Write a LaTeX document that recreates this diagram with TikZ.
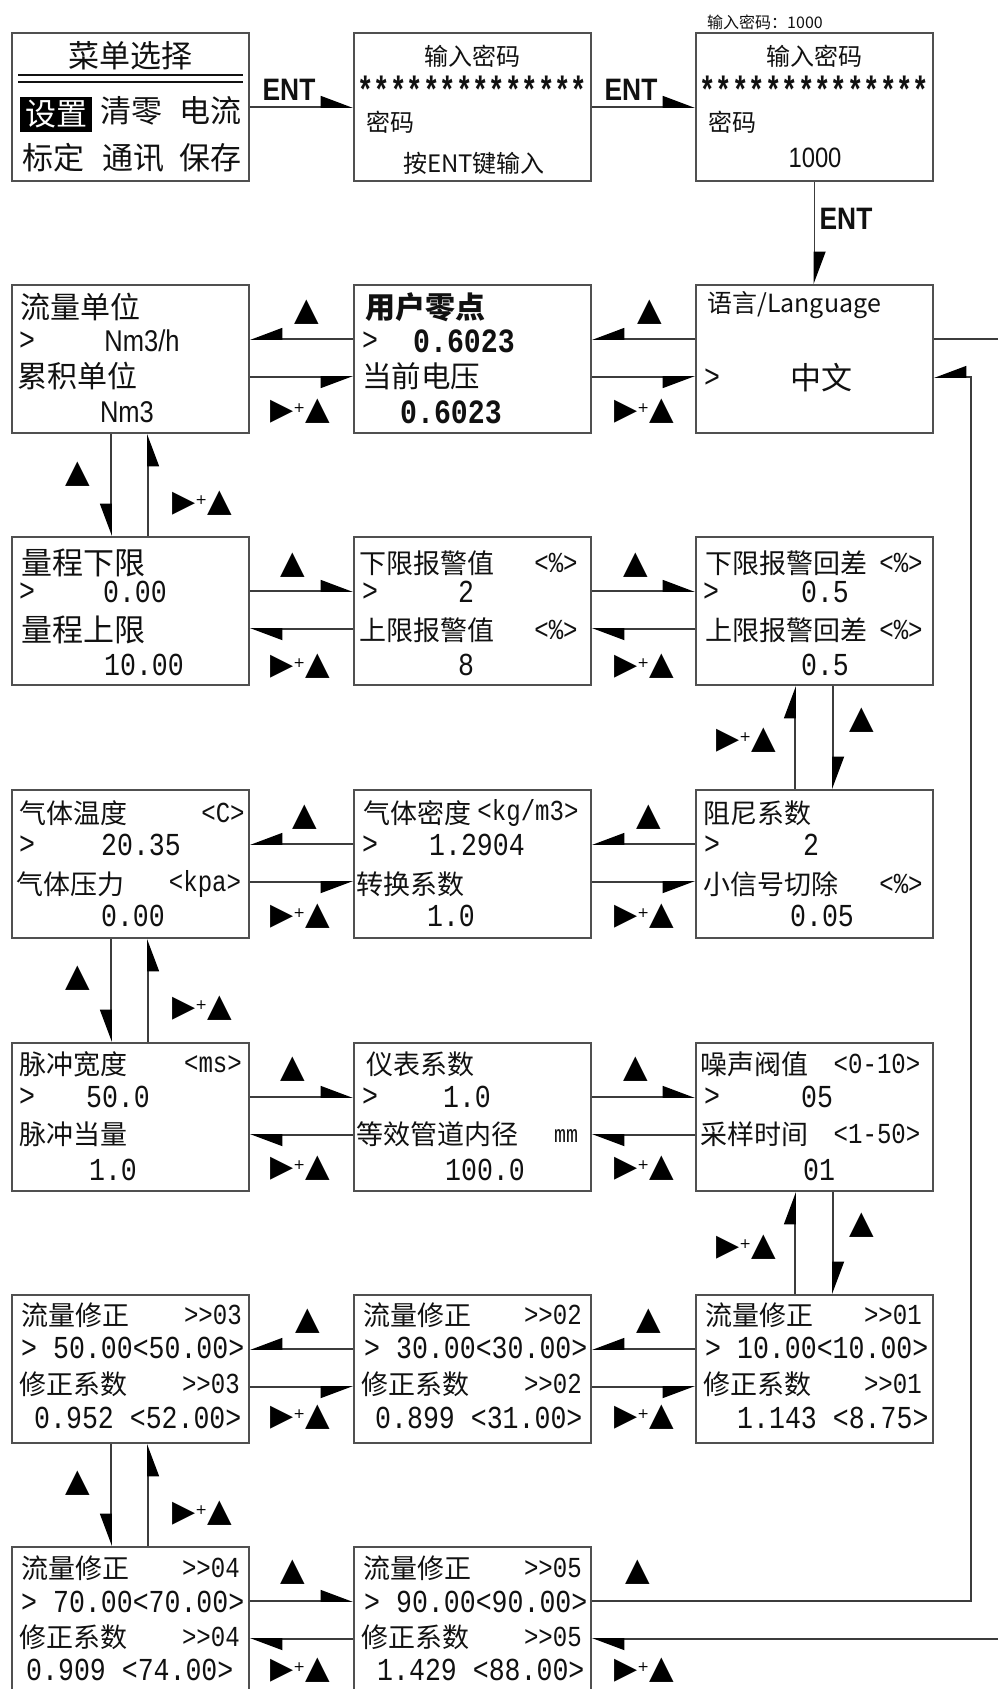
\documentclass[tikz,border=0pt]{standalone}
\usepackage{fontspec}
\usetikzlibrary{arrows.meta,calc}
\newfontfamily\cjk{Noto Sans CJK SC}
\newfontfamily\nmono[FakeStretch=0.83]{Liberation Mono}
\newfontfamily\astfont[FakeStretch=0.72]{Liberation Mono}
\newfontfamily\lsans[FakeStretch=0.85]{Liberation Sans}
\newfontfamily\dv{DejaVu Sans}
\definecolor{bdr}{HTML}{505050}
\definecolor{lnc}{HTML}{3C3C3C}
\definecolor{txt}{HTML}{111111}
\newcommand\triU{{\dv\fontsize{32}{32}\selectfont ▲}}
\newcommand\triRU{{\dv\fontsize{30}{30}\selectfont ▶}\raisebox{7pt}{\dv\fontsize{14}{14}\selectfont +}{\dv\fontsize{32}{32}\selectfont ▲}}
\begin{document}
\begin{tikzpicture}[x=1pt,y=-1pt,
  box/.style={draw=bdr, line width=2pt, minimum width=237pt, minimum height=148pt, inner sep=0pt, fill=white},
  ln/.style={draw=lnc, line width=1.8pt},
  hL/.style={ln, -{Triangle[left,length=30pt,width=22pt,color=black]}},
  hR/.style={ln, -{Triangle[right,length=30pt,width=22pt,color=black]}},
  cj/.style={font=\cjk\fontsize{27}{30}\selectfont, text=txt, inner sep=0pt, anchor=west},
  cjL/.style={cj, font=\cjk\fontsize{31}{33}\selectfont},
  cjB/.style={cj, font=\cjk\bfseries\fontsize{30}{32}\selectfont},
  cjM/.style={cj, font=\cjk\fontsize{25}{27}\selectfont},
  cjS/.style={cj, font=\cjk\fontsize{24}{26}\selectfont},
  num/.style={font=\nmono\fontsize{32}{34}\selectfont, text=txt, inner sep=0pt, anchor=west},
  numB/.style={num, font=\nmono\bfseries\fontsize{34}{36}\selectfont},
  unit/.style={font=\nmono\fontsize{29}{31}\selectfont, text=txt, inner sep=0pt, anchor=center},
  star/.style={font=\astfont\bfseries\fontsize{38}{40}\selectfont, text=txt, inner sep=0pt, anchor=center},
  lat/.style={font=\lsans\fontsize{31}{33}\selectfont, text=txt, inner sep=0pt, anchor=center},
  entl/.style={font=\lsans\bfseries\fontsize{31}{33}\selectfont, text=txt, inner sep=0pt, anchor=center},
  sym/.style={inner sep=0pt, anchor=center, text=black}
]
\fill[white] (0,0) rectangle (998,1689);
\useasboundingbox (0,0) rectangle (998,1689);

% ---------- boxes ----------
\node[box] (b11) at (130.5,107) {};
\node[box] (b12) at (472.5,107) {};
\node[box] (b13) at (814.5,107) {};
\node[box] (b21) at (130.5,359) {};
\node[box] (b22) at (472.5,359) {};
\node[box] (b23) at (814.5,359) {};
\node[box] (b31) at (130.5,611) {};
\node[box] (b32) at (472.5,611) {};
\node[box] (b33) at (814.5,611) {};
\node[box] (b41) at (130.5,864) {};
\node[box] (b42) at (472.5,864) {};
\node[box] (b43) at (814.5,864) {};
\node[box] (b51) at (130.5,1117) {};
\node[box] (b52) at (472.5,1117) {};
\node[box] (b53) at (814.5,1117) {};
\node[box] (b61) at (130.5,1369) {};
\node[box] (b62) at (472.5,1369) {};
\node[box] (b63) at (814.5,1369) {};
\node[box] (b71) at (130.5,1621) {};
\node[box] (b72) at (472.5,1621) {};

% ---------- row 1 ----------
\node[cj, anchor=center, font=\cjk\fontsize{16}{17}\selectfont] (pw) at (765,22) {输入密码：1000};
\node[cjL, anchor=center] (t11a) at (130,56) {菜单选择};
\draw[line width=2.6pt, draw=txt] ($(b11.north west)+(7,43)$) -- ($(b11.north east)+(-7,43)$);
\draw[line width=2.6pt, draw=txt] ($(b11.north west)+(7,50)$) -- ($(b11.north east)+(-7,50)$);
\node[cjL, anchor=center, fill=black, text=white, minimum width=72pt, minimum height=35pt] (t11b) at (56,114.5) {设置};
\node[cjL, anchor=center] (t11c) at (131.5,111) {清零};
\node[cjL, anchor=center] (t11d) at (210,111) {电流};
\node[cjL, anchor=center] (t11e) at (53,158) {标定};
\node[cjL, anchor=center] (t11f) at (133.5,158) {通讯};
\node[cjL, anchor=center] (t11g) at (210,158) {保存};

\node[cjS, anchor=center] (t12a) at (472,56) {输入密码};
\node[star] (t12b) at (472.5,90) {**************};
\node[cjS] (t12c) at (366,122) {密码};
\node[cjS, anchor=center] (t12d) at (474,163) {按ENT键输入};

\node[cjS, anchor=center] (t13a) at (814,56) {输入密码};
\node[star] (t13b) at (814.5,90) {**************};
\node[cjS] (t13c) at (708,122) {密码};
\node[lat, font=\lsans\fontsize{28}{30}\selectfont] (t13d) at (815,158) {1000};

\node[entl] (e1) at (289,90) {ENT};
\node[entl] (e2) at (631,90) {ENT};
\node[entl] (e3) at (846,219) {ENT};
\draw[hL] (b11.east) -- (b12.west);
\draw[hL] (b12.east) -- (b13.west);
\draw[hL] (b13.south) -- (b23.north);

% ---------- row 2 ----------
\node[cjL, font=\cjk\fontsize{30}{32}\selectfont] (t21a) at (20,307) {流量单位};
\node[num] (t21b) at (19,341) {>};
\node[lat, font=\lsans\fontsize{30}{32}\selectfont] (t21c) at (142,341) {Nm3/h};
\node[cjL, font=\cjk\fontsize{30}{32}\selectfont] (t21d) at (17,376) {累积单位};
\node[lat, font=\lsans\fontsize{30}{32}\selectfont] (t21e) at (127,412) {Nm3};

\node[cjB] (t22a) at (365,307) {用户零点};
\node[num] (t22b) at (362,341) {>};
\node[numB, anchor=center] (t22c) at (464,341) {0.6023};
\node[cjL, font=\cjk\fontsize{29.5}{31}\selectfont] (t22d) at (362,376) {当前电压};
\node[numB, anchor=center] (t22e) at (451,412) {0.6023};

\node[cjM] (t23a) at (707,305) {语言/Language};
\node[num] (t23b) at (704,378) {>};
\node[cjL, anchor=center] (t23c) at (821,378) {中文};

% ---------- row 3 ----------
\node[cjL] (t31a) at (21,563) {量程下限};
\node[num] (t31b) at (19,592) {>};
\node[num, anchor=center] (t31c) at (135,592) {0.00};
\node[cjL] (t31d) at (21,630) {量程上限};
\node[num, anchor=center] (t31e) at (144,665) {10.00};

\node[cj] (t32a) at (359,563) {下限报警值};
\node[unit] (t32b) at (556,563) {<\%>};
\node[num] (t32c) at (362,592) {>};
\node[num, anchor=center] (t32d) at (466,592) {2};
\node[cj] (t32e) at (359,630) {上限报警值};
\node[unit] (t32f) at (556,630) {<\%>};
\node[num, anchor=center] (t32g) at (466,665) {8};

\node[cj] (t33a) at (705,563) {下限报警回差};
\node[unit] (t33b) at (901,563) {<\%>};
\node[num] (t33c) at (703,592) {>};
\node[num, anchor=center] (t33d) at (825,592) {0.5};
\node[cj] (t33e) at (705,630) {上限报警回差};
\node[unit] (t33f) at (901,630) {<\%>};
\node[num, anchor=center] (t33g) at (825,665) {0.5};

% ---------- row 4 ----------
\node[cj] (t41a) at (19,813) {气体温度};
\node[unit] (t41b) at (223,813) {<C>};
\node[num] (t41c) at (19,845) {>};
\node[num, anchor=center] (t41d) at (141,845) {20.35};
\node[cj] (t41e) at (16,884) {气体压力};
\node[unit] (t41f) at (205,884) {<kpa>};
\node[num, anchor=center] (t41g) at (133,916) {0.00};

\node[cj] (t42a) at (363,813) {气体密度};
\node[unit] (t42b) at (528,813) {<kg/m3>};
\node[num] (t42c) at (362,845) {>};
\node[num, anchor=center] (t42d) at (477,845) {1.2904};
\node[cj] (t42e) at (356,884) {转换系数};
\node[num, anchor=center] (t42f) at (451,916) {1.0};

\node[cj] (t43a) at (703,813) {阻尼系数};
\node[num] (t43b) at (704,845) {>};
\node[num, anchor=center] (t43c) at (811,845) {2};
\node[cj] (t43d) at (703,884) {小信号切除};
\node[unit] (t43e) at (901,884) {<\%>};
\node[num, anchor=center] (t43f) at (822,916) {0.05};

% ---------- row 5 ----------
\node[cj] (t51a) at (19,1064) {脉冲宽度};
\node[unit] (t51b) at (213,1064) {<ms>};
\node[num] (t51c) at (19,1097) {>};
\node[num, anchor=center] (t51d) at (118,1097) {50.0};
\node[cj] (t51e) at (19,1134) {脉冲当量};
\node[num, anchor=center] (t51f) at (113,1170) {1.0};

\node[cj] (t52a) at (366,1064) {仪表系数};
\node[num] (t52b) at (362,1097) {>};
\node[num, anchor=center] (t52c) at (467,1097) {1.0};
\node[cj] (t52d) at (356,1134) {等效管道内径};
\node[unit, font=\nmono\fontsize{24}{26}\selectfont] (t52e) at (566,1136) {mm};
\node[num, anchor=center] (t52f) at (485,1170) {100.0};

\node[cj] (t53a) at (700,1064) {噪声阀值};
\node[unit] (t53b) at (877,1064) {<0-10>};
\node[num] (t53c) at (704,1097) {>};
\node[num, anchor=center] (t53d) at (817,1097) {05};
\node[cj] (t53e) at (700,1134) {采样时间};
\node[unit] (t53f) at (877,1134) {<1-50>};
\node[num, anchor=center] (t53g) at (819,1170) {01};

% ---------- row 6 ----------
\node[cj] (t61a) at (21,1315) {流量修正};
\node[unit, anchor=east] (t61b) at (242,1315) {>>03};
\node[num] (t61c) at (21,1348) {> 50.00<50.00>};
\node[cj] (t61d) at (19,1384) {修正系数};
\node[unit, anchor=east] (t61e) at (240,1384) {>>03};
\node[num] (t61f) at (34,1418) {0.952 <52.00>};

\node[cj] (t62a) at (363,1315) {流量修正};
\node[unit, anchor=east] (t62b) at (582,1315) {>>02};
\node[num] (t62c) at (364,1348) {> 30.00<30.00>};
\node[cj] (t62d) at (361,1384) {修正系数};
\node[unit, anchor=east] (t62e) at (582,1384) {>>02};
\node[num] (t62f) at (375,1418) {0.899 <31.00>};

\node[cj] (t63a) at (705,1315) {流量修正};
\node[unit, anchor=east] (t63b) at (922,1315) {>>01};
\node[num] (t63c) at (705,1348) {> 10.00<10.00>};
\node[cj] (t63d) at (703,1384) {修正系数};
\node[unit, anchor=east] (t63e) at (922,1384) {>>01};
\node[num] (t63f) at (737,1418) {1.143 <8.75>};

% ---------- row 7 ----------
\node[cj] (t71a) at (21,1568) {流量修正};
\node[unit, anchor=east] (t71b) at (240,1568) {>>04};
\node[num] (t71c) at (21,1602) {> 70.00<70.00>};
\node[cj] (t71d) at (19,1637) {修正系数};
\node[unit, anchor=east] (t71e) at (240,1637) {>>04};
\node[num] (t71f) at (26,1670) {0.909 <74.00>};

\node[cj] (t72a) at (363,1568) {流量修正};
\node[unit, anchor=east] (t72b) at (582,1568) {>>05};
\node[num] (t72c) at (364,1602) {> 90.00<90.00>};
\node[cj] (t72d) at (361,1637) {修正系数};
\node[unit, anchor=east] (t72e) at (582,1637) {>>05};
\node[num] (t72f) at (377,1670) {1.429 <88.00>};

% ---------- horizontal connectors ----------
% rows flowing left (2,4,6)
\foreach \r in {2,4,6}{
  \draw[hR] ($(b\r2.north west)+(0,55)$) -- ($(b\r1.north east)+(0,55)$);
  \draw[hR] ($(b\r1.north east)+(0,93)$) -- ($(b\r2.north west)+(0,93)$);
  \draw[hR] ($(b\r3.north west)+(0,55)$) -- ($(b\r2.north east)+(0,55)$);
  \draw[hR] ($(b\r2.north east)+(0,93)$) -- ($(b\r3.north west)+(0,93)$);
}
% rows flowing right (3,5)
\foreach \r in {3,5}{
  \draw[hL] ($(b\r1.north east)+(0,55)$) -- ($(b\r2.north west)+(0,55)$);
  \draw[hL] ($(b\r2.north west)+(0,93)$) -- ($(b\r1.north east)+(0,93)$);
  \draw[hL] ($(b\r2.north east)+(0,55)$) -- ($(b\r3.north west)+(0,55)$);
  \draw[hL] ($(b\r3.north west)+(0,93)$) -- ($(b\r2.north east)+(0,93)$);
}
\draw[hL] ($(b71.north east)+(0,55)$) -- ($(b72.north west)+(0,55)$);
\draw[hL] ($(b72.north west)+(0,93)$) -- ($(b71.north east)+(0,93)$);

% loop on the right
\draw[hR] ($(b72.north east)+(0,55)$) -- ++(379,0) |- ($(b23.north east)+(0,93)$);
\draw[ln] ($(b23.north east)+(0,55)$) -- ++(90,0);
\draw[hL] ($(b72.north east)+(430,93)$) -- ($(b72.north east)+(0,93)$);

% ---------- vertical connectors ----------
\foreach \a/\b in {2/3,4/5,6/7}{
  \draw[hR] ($(b\a1.south west)+(100,0)$) -- ($(b\b1.north west)+(100,0)$);
  \draw[hR] ($(b\b1.north west)+(137,0)$) -- ($(b\a1.south west)+(137,0)$);
}
\foreach \a/\b in {3/4,5/6}{
  \draw[hL] ($(b\b3.north west)+(100,0)$) -- ($(b\a3.south west)+(100,0)$);
  \draw[hL] ($(b\a3.south west)+(138,0)$) -- ($(b\b3.north west)+(138,0)$);
}

% ---------- key labels ----------
\node[sym] (k2a) at (307,312) {\triU};
\node[sym] (k2b) at (650,312) {\triU};
\node[sym] (k2c) at (300,411) {\triRU};
\node[sym] (k2d) at (644,411) {\triRU};
\node[sym] (k3a) at (293,565) {\triU};
\node[sym] (k3b) at (636,565) {\triU};
\node[sym] (k3c) at (300,666) {\triRU};
\node[sym] (k3d) at (644,666) {\triRU};
\node[sym] (k4a) at (305,817) {\triU};
\node[sym] (k4b) at (649,817) {\triU};
\node[sym] (k4c) at (300,916) {\triRU};
\node[sym] (k4d) at (644,916) {\triRU};
\node[sym] (k5a) at (293,1069) {\triU};
\node[sym] (k5b) at (636,1069) {\triU};
\node[sym] (k5c) at (300,1168) {\triRU};
\node[sym] (k5d) at (644,1168) {\triRU};
\node[sym] (k6a) at (308,1321) {\triU};
\node[sym] (k6b) at (649,1321) {\triU};
\node[sym] (k6c) at (300,1417) {\triRU};
\node[sym] (k6d) at (644,1417) {\triRU};
\node[sym] (k7a) at (293,1572) {\triU};
\node[sym] (k7b) at (638,1572) {\triU};
\node[sym] (k7c) at (300,1670) {\triRU};
\node[sym] (k7d) at (644,1670) {\triRU};

\node[sym] (v1a) at (78,474) {\triU};
\node[sym] (v1b) at (202,503) {\triRU};
\node[sym] (v2a) at (78,978) {\triU};
\node[sym] (v2b) at (202,1008) {\triRU};
\node[sym] (v3a) at (78,1483) {\triU};
\node[sym] (v3b) at (202,1513) {\triRU};
\node[sym] (v4a) at (862,720) {\triU};
\node[sym] (v4b) at (746,740) {\triRU};
\node[sym] (v5a) at (862,1225) {\triU};
\node[sym] (v5b) at (746,1247) {\triRU};
\end{tikzpicture}
\end{document}
